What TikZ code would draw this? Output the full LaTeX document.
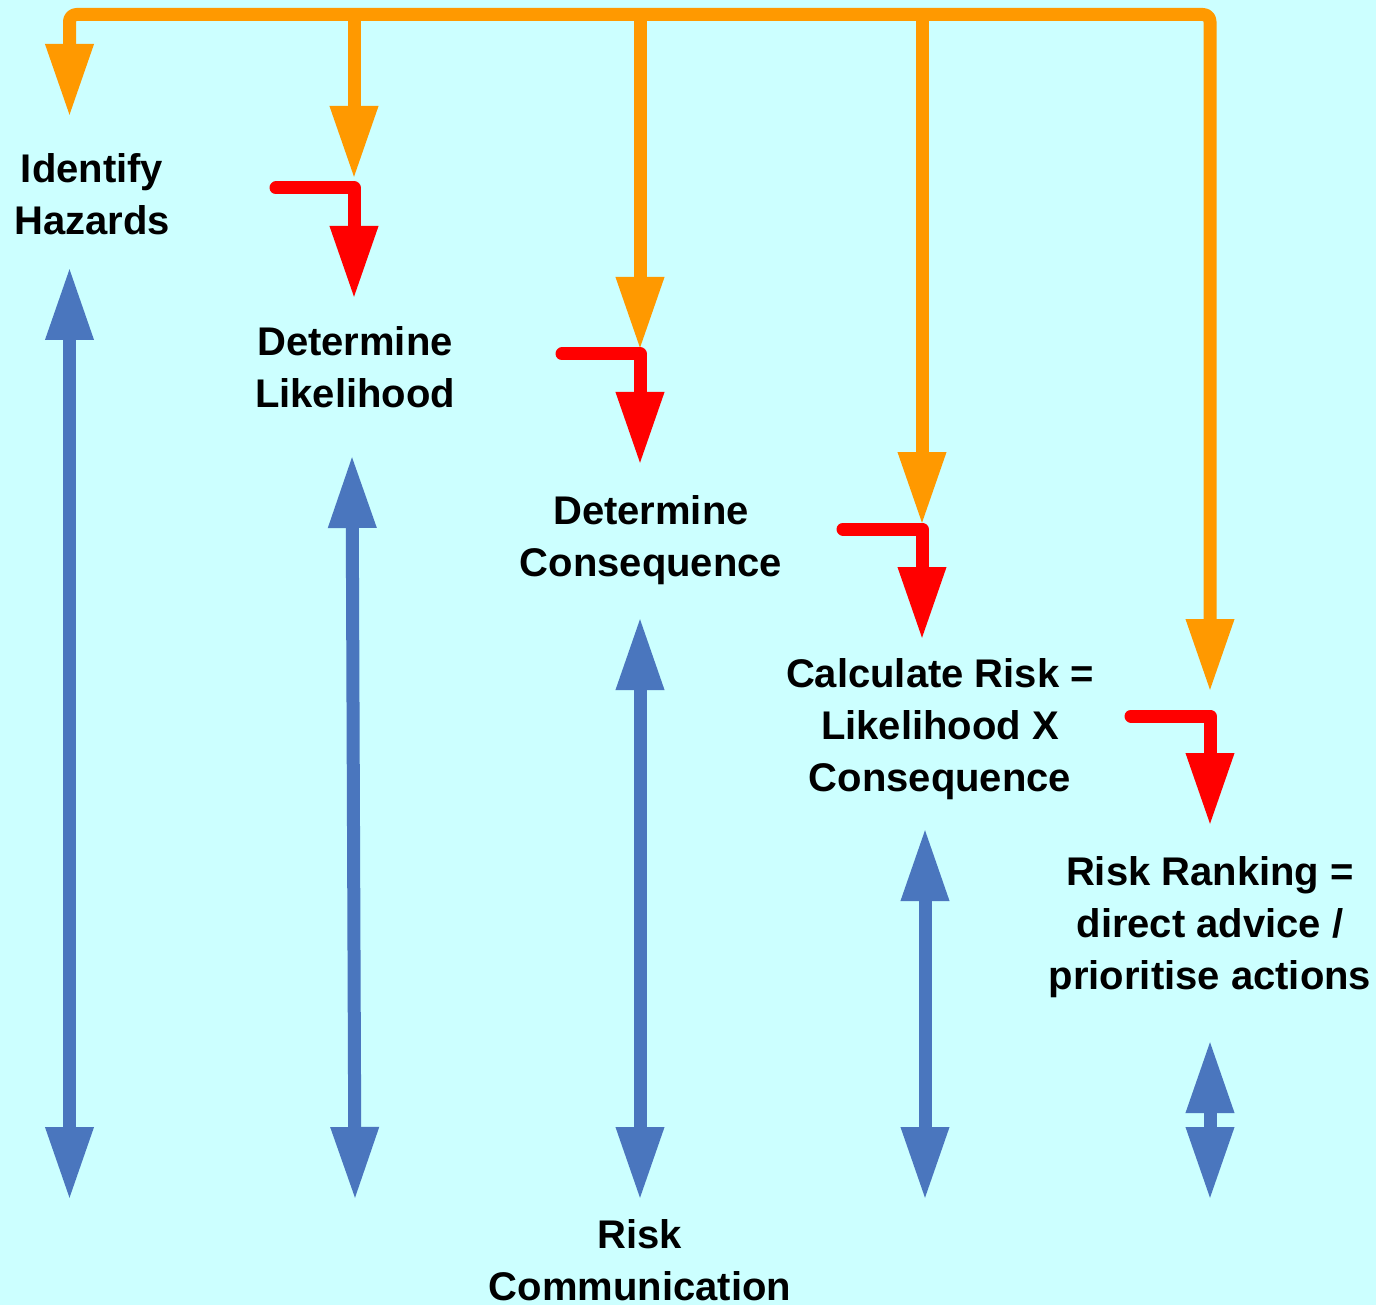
\documentclass[tikz,border=0pt]{standalone}
\usepackage{fontspec}
\setmainfont{Liberation Sans}
\usetikzlibrary{arrows.meta}
\definecolor{bgc}{HTML}{CCFFFF}
\definecolor{orc}{HTML}{FF9900}
\definecolor{rdc}{HTML}{FF0000}
\definecolor{blc}{HTML}{4A76BE}
\tikzset{
  tip/.style={Triangle[length=73pt,width=45pt]},
  orline/.style={draw=orc,line width=13pt,line join=round,-{Triangle[length=73pt,width=45pt]}},
  rdline/.style={draw=rdc,line width=13pt,line cap=round,line join=round,-{Triangle[length=73pt,width=45pt]}},
  blline/.style={draw=blc,line width=13pt,{Triangle[length=73pt,width=45pt]}-{Triangle[length=73pt,width=45pt]}},
  label/.style={font=\bfseries\fontsize{40}{52}\selectfont,align=center,inner sep=0pt,text=black}
}
\begin{document}
\begin{tikzpicture}[x=1pt,y=-1pt]
\fill[bgc] (0,0) rectangle (1376,1305);
\useasboundingbox (0,0) rectangle (1376,1305);
% text nodes
\node[label] (hz) at (92,194) {Identify\\Hazards};
\node[label] (lk) at (355,367) {Determine\\Likelihood};
\node[label] (cq) at (651,540) {Determine\\Consequence};
\node[label] (cr) at (940,729) {Calculate Risk =\\Likelihood X\\Consequence};
\node[label] (rr) at (1210,927) {Risk Ranking =\\direct advice /\\prioritise actions};
\node[label,anchor=north] (rc) at (640,1219) {Risk\\Communication};
% orange coordinates
\coordinate (o1) at (69.5,117);
\coordinate (b1) at (69.5,14.5);
\coordinate (b2) at (354,14.5);
\coordinate (b3) at (640,14.5);
\coordinate (b4) at (922,14.5);
\coordinate (b5) at (1210,14.5);
\coordinate (o2) at (354,179);
\coordinate (o3) at (640,350);
\coordinate (o4) at (922,525);
\coordinate (o5) at (1210,692);
\draw[orline,{Triangle[length=73pt,width=45pt]}-{Triangle[length=73pt,width=45pt]},rounded corners=7pt] (o1) -- (b1) -- (b5) -- (o5);
\draw[orline] (b2) -- (o2);
\draw[orline] (b3) -- (o3);
\draw[orline] (b4) -- (o4);
% red
\coordinate (r2s) at (276,188);
\coordinate (r2) at (354,299);
\coordinate (r3s) at (562,354);
\coordinate (r3) at (640,465);
\coordinate (r4s) at (843,529);
\coordinate (r4) at (922,640);
\coordinate (r5s) at (1131,716);
\coordinate (r5) at (1210,826);
\draw[rdline] (r2s) -| (r2);
\draw[rdline] (r3s) -| (r3);
\draw[rdline] (r4s) -| (r4);
\draw[rdline] (r5s) -| (r5);
% blue
\coordinate (u1) at (69.5,267);
\coordinate (d1) at (69.5,1200);
\coordinate (u2) at (352,455);
\coordinate (d2) at (355,1200);
\coordinate (u3) at (640,617);
\coordinate (d3) at (640,1200);
\coordinate (u4) at (925,828);
\coordinate (d4) at (925,1200);
\coordinate (u5) at (1210,1040);
\coordinate (d5) at (1210,1200);
\draw[blline] (u1) -- (d1);
\draw[blline] (u2) -- (d2);
\draw[blline] (u3) -- (d3);
\draw[blline] (u4) -- (d4);
\draw[blline] (u5) -- (d5);
\end{tikzpicture}
\end{document}
